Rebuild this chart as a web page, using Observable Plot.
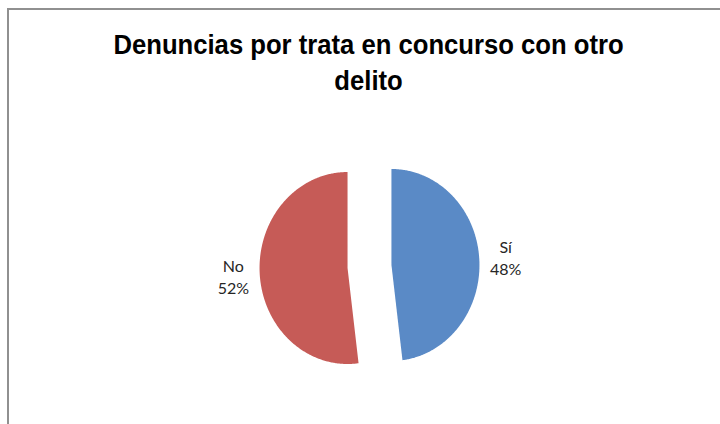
<!DOCTYPE html>
<html>
<head>
<meta charset="utf-8">
<script src="https://cdn.jsdelivr.net/npm/d3@7"></script>
<script src="https://cdn.jsdelivr.net/npm/@observablehq/plot@0.6"></script>
<style>
  html, body { margin: 0; padding: 0; background: #fff; }
  #wrap { position: relative; width: 720px; height: 424px; overflow: hidden; }
  #frame { position: absolute; left: 7px; top: 8px; width: 800px; height: 500px;
           border: 2px solid #909090; box-sizing: border-box; }
  #title { position: relative; height: 110px; box-sizing: border-box; padding-top: 27px;
           text-align: center; font-family: "Liberation Sans", Arial, sans-serif;
           font-weight: bold; font-size: 27px; line-height: 36px; color: #000; padding-left: 18px; }
  #title span { display: inline-block; transform: scaleX(0.95); transform-origin: center; }
  #chart { position: relative; }
</style>
</head>
<body>
<div id="wrap">
  <div id="frame"></div>
  <div id="title"><span>Denuncias por trata en concurso con otro<br>delito</span></div>
  <div id="chart"></div>
</div>
<script>
const categories = ["Sí", "No"];
const values = [48, 52];
const colors = ["#5A8AC6", "#C65B57"];

const W = 720, H = 314;
const cxPx = 369, cyPx = 156, rx = 88, ry = 96;
const explode = 0.25;
const labelR = 1.3;

const data = categories.map((c, i) => ({cat: c, value: values[i]}));
const arcs = d3.pie().sort(null).value(d => d.value)(data);

const polys = [];
const labels = [];
arcs.forEach(a => {
  const m = (a.startAngle + a.endAngle) / 2;
  const ox = explode * Math.sin(m), oy = explode * Math.cos(m);
  polys.push({cat: a.data.cat, x: ox, y: oy});
  const n = Math.max(8, Math.ceil((a.endAngle - a.startAngle) / 0.01));
  for (let k = 0; k <= n; k++) {
    const t = a.startAngle + (a.endAngle - a.startAngle) * k / n;
    polys.push({cat: a.data.cat, x: ox + Math.sin(t), y: oy + Math.cos(t)});
  }
  polys.push({cat: a.data.cat, x: ox, y: oy});
  labels.push({cat: a.data.cat, value: a.data.value,
               x: ox + labelR * Math.sin(m), y: oy + labelR * Math.cos(m)});
});

const chart = Plot.plot({
  width: W, height: H,
  marginTop: 0, marginRight: 0, marginBottom: 0, marginLeft: 0,
  x: {domain: [-cxPx / rx, (W - cxPx) / rx], axis: null},
  y: {domain: [-(H - cyPx) / ry, cyPx / ry], axis: null},
  color: {domain: categories, range: colors},
  style: {background: "transparent", fontFamily: "Lato, 'Open Sans', sans-serif"},
  marks: [
    Plot.line(polys, {x: "x", y: "y", z: "cat", fill: "cat", stroke: "none", curve: "linear"}),
    Plot.text(labels, {x: "x", y: "y", text: d => `${d.cat}\n${d.value}%`,
      fontSize: 16, lineHeight: 1.35, fill: "#262626", textAnchor: "middle", lineAnchor: "middle"})
  ]
});
document.getElementById("chart").appendChild(chart);
</script>
</body>
</html>
